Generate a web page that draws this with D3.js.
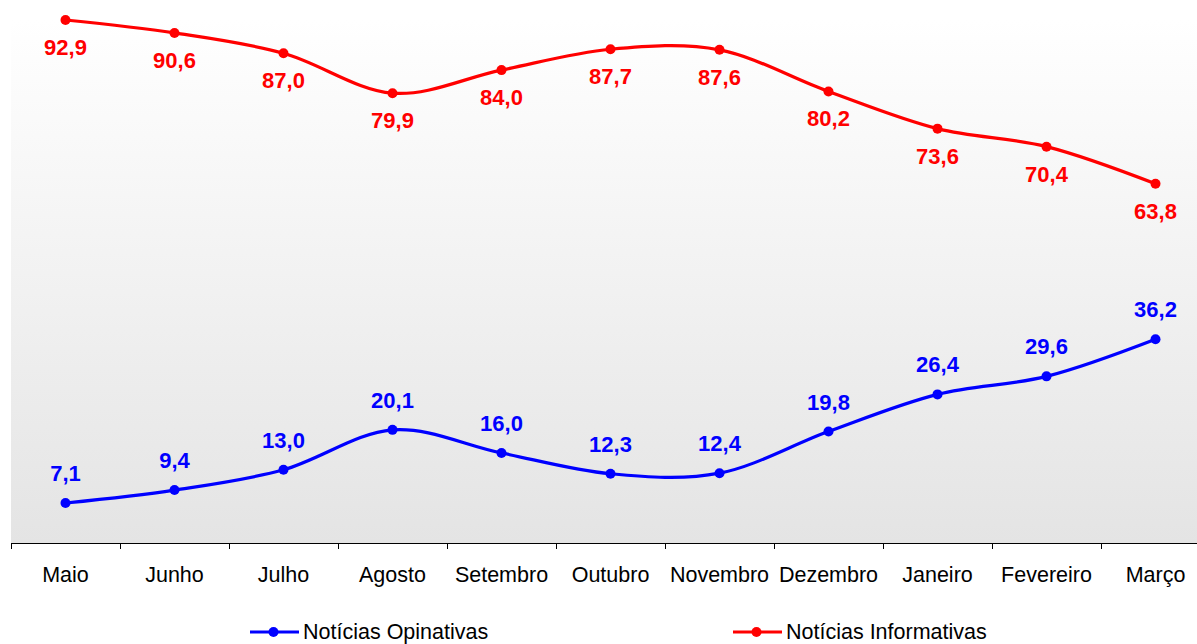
<!DOCTYPE html>
<html>
<head>
<meta charset="utf-8">
<script src="https://cdn.jsdelivr.net/npm/d3@7"></script>
<style>
  body { margin: 0; background: #fff; }
  text { font-family: "Liberation Sans", Arial, sans-serif; }
</style>
</head>
<body>
<svg width="1197" height="644"></svg>
<script>
// months (categories)
var months = ["Maio", "Junho", "Julho", "Agosto", "Setembro", "Outubro",
              "Novembro", "Dezembro", "Janeiro", "Fevereiro", "Março"];
// percentages per month
var opinativas = [7.1, 9.4, 13.0, 20.1, 16.0, 12.3, 12.4, 19.8, 26.4, 29.6, 36.2];
var informativas = [92.9, 90.6, 87.0, 79.9, 84.0, 87.7, 87.6, 80.2, 73.6, 70.4, 63.8];
var seriesNames = ["Notícias Opinativas", "Notícias Informativas"];
var seriesColors = ["#0000ff", "#ff0000"];

var svg = d3.select("svg");

var plot = { left: 11, right: 1210, top: 20, bottom: 543 };

var x = d3.scaleBand()
    .domain(months)
    .range([plot.left, plot.right])
    .padding(0);

var y = d3.scaleLinear()
    .domain([0, 92.9])
    .range([plot.bottom, plot.top]);

// background gradient
var defs = svg.append("defs");
var grad = defs.append("linearGradient")
    .attr("id", "bg")
    .attr("x1", 0).attr("y1", 0).attr("x2", 0).attr("y2", 1);
grad.append("stop").attr("offset", "0%").attr("stop-color", "#ffffff");
grad.append("stop").attr("offset", "100%").attr("stop-color", "#e4e4e4");

svg.append("rect")
    .attr("x", plot.left)
    .attr("y", plot.top)
    .attr("width", plot.right - plot.left)
    .attr("height", plot.bottom - plot.top)
    .attr("fill", "url(#bg)");

// x axis: line + ticks at category boundaries
svg.append("line")
    .attr("x1", plot.left).attr("x2", plot.right)
    .attr("y1", plot.bottom + 0.5).attr("y2", plot.bottom + 0.5)
    .attr("stroke", "#000")
    .attr("stroke-width", 1);

svg.append("g")
    .selectAll("line")
    .data(months)
    .enter().append("line")
    .attr("x1", function (d) { return Math.round(x(d)) + 0.5; })
    .attr("x2", function (d) { return Math.round(x(d)) + 0.5; })
    .attr("y1", plot.bottom)
    .attr("y2", plot.bottom + 6)
    .attr("stroke", "#000");

svg.append("g")
    .selectAll("text")
    .data(months)
    .enter().append("text")
    .attr("x", function (d) { return x(d) + x.bandwidth() / 2; })
    .attr("y", 582)
    .attr("text-anchor", "middle")
    .attr("font-size", 21.5)
    .attr("fill", "#000")
    .text(function (d) { return d; });

var cx = function (d, i) { return x(months[i]) + x.bandwidth() / 2; };

var line = d3.line()
    .x(cx)
    .y(function (d) { return y(d); })
    .curve(d3.curveCardinal.tension(0));

var fmt = function (v) { return v.toFixed(1).replace(".", ","); };

var series = [opinativas, informativas];
// opinativas labels sit above points, informativas below
var labelDy = [-22, 35];

series.forEach(function (vals, s) {
    var g = svg.append("g");
    g.append("path")
        .datum(vals)
        .attr("d", line)
        .attr("fill", "none")
        .attr("stroke", seriesColors[s])
        .attr("stroke-width", 3.2);

    g.selectAll("circle")
        .data(vals)
        .enter().append("circle")
        .attr("cx", cx)
        .attr("cy", function (d) { return y(d); })
        .attr("r", 5)
        .attr("fill", seriesColors[s]);

    g.selectAll("text")
        .data(vals)
        .enter().append("text")
        .attr("x", cx)
        .attr("y", function (d) { return y(d) + labelDy[s]; })
        .attr("text-anchor", "middle")
        .attr("font-size", 22)
        .attr("font-weight", "bold")
        .attr("fill", seriesColors[s])
        .text(fmt);
});

// legend
var legendX = [250, 733];
var legend = svg.append("g")
    .selectAll("g")
    .data(seriesNames)
    .enter().append("g")
    .attr("transform", function (d, i) { return "translate(" + legendX[i] + ",632)"; });

legend.append("line")
    .attr("x1", 0).attr("x2", 49)
    .attr("y1", 0).attr("y2", 0)
    .attr("stroke", function (d, i) { return seriesColors[i]; })
    .attr("stroke-width", 3.2);

legend.append("circle")
    .attr("cx", 23.5).attr("cy", 0)
    .attr("r", 5)
    .attr("fill", function (d, i) { return seriesColors[i]; });

legend.append("text")
    .attr("x", 53)
    .attr("y", 6.5)
    .attr("font-size", 21.5)
    .attr("fill", "#000")
    .text(function (d) { return d; });
</script>
</body>
</html>
